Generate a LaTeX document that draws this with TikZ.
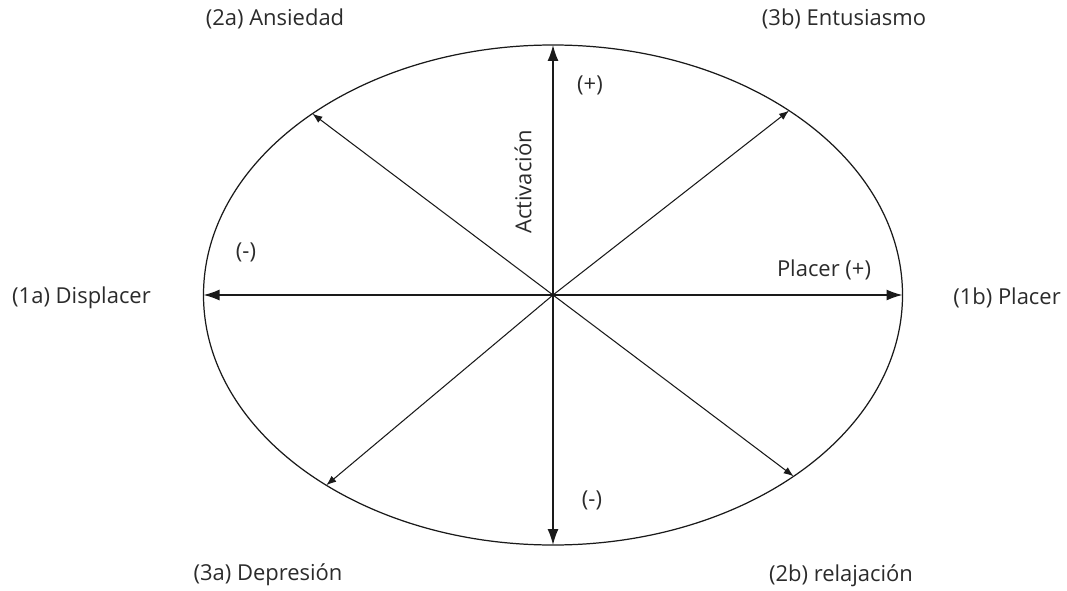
\documentclass[tikz,border=0pt]{standalone}
\usepackage{fontspec}
\setmainfont{Open Sans}
\usetikzlibrary{arrows.meta,positioning,shapes.geometric}
\definecolor{RLine}{HTML}{1A1A1A}
\definecolor{RText}{HTML}{2B2B2B}

\begin{document}
\begin{tikzpicture}[
  lbl/.style={font=\fontsize{12.5}{15}\selectfont,text=RText,inner sep=1pt},
  ax/.style={{Latex[length=3.2mm,width=2.2mm]}-{Latex[length=3.2mm,width=2.2mm]},line width=0.8pt,color=RLine},
  dg/.style={-{Latex[length=2mm,width=1.5mm]},line width=0.6pt,color=RLine}
]
  \useasboundingbox (0,0) rectangle (21.34,11.8);
  \node[ellipse,draw=RLine,line width=0.7pt,inner sep=0pt,outer sep=0pt,
    minimum width=13.98cm,minimum height=10cm] (circ) at (11.06,5.9) {};
  \coordinate (c) at (circ.center);
  % ejes
  \draw[ax] (circ.west) -- (circ.east);
  \draw[ax] (circ.south) -- (circ.north);
  % diagonales
  \draw[dg] (c) -- (circ.143.6);
  \draw[dg] (c) -- (circ.38.8);
  \draw[dg] (c) -- (circ.220.2);
  \draw[dg] (c) -- (circ.323.7);
  % etiquetas
  \node[lbl] (ansiedad) at (5.5,11.42) {(2a) Ansiedad};
  \node[lbl] (entusiasmo) at (16.88,11.42) {(3b) Entusiasmo};
  \node[lbl] (displacer) at (1.63,5.84) {(1a) Displacer};
  \node[lbl] (placer) at (20.14,5.84) {(1b) Placer};
  \node[lbl] (depresion) at (5.36,0.3) {(3a) Depresión};
  \node[lbl] (relajacion) at (16.82,0.28) {(2b) relajación};
  \node[lbl] (actmas) at (11.8,10.1) {(+)};
  \node[lbl] (actmenos) at (11.84,1.8) {(-)};
  \node[lbl] (plamenos) at (4.92,6.76) {(-)};
  \node[lbl] (plamas) at (16.48,6.4) {Placer (+)};
  \node[lbl,rotate=90] (activacion) at (10.46,8.16) {Activación};
\end{tikzpicture}
\end{document}
